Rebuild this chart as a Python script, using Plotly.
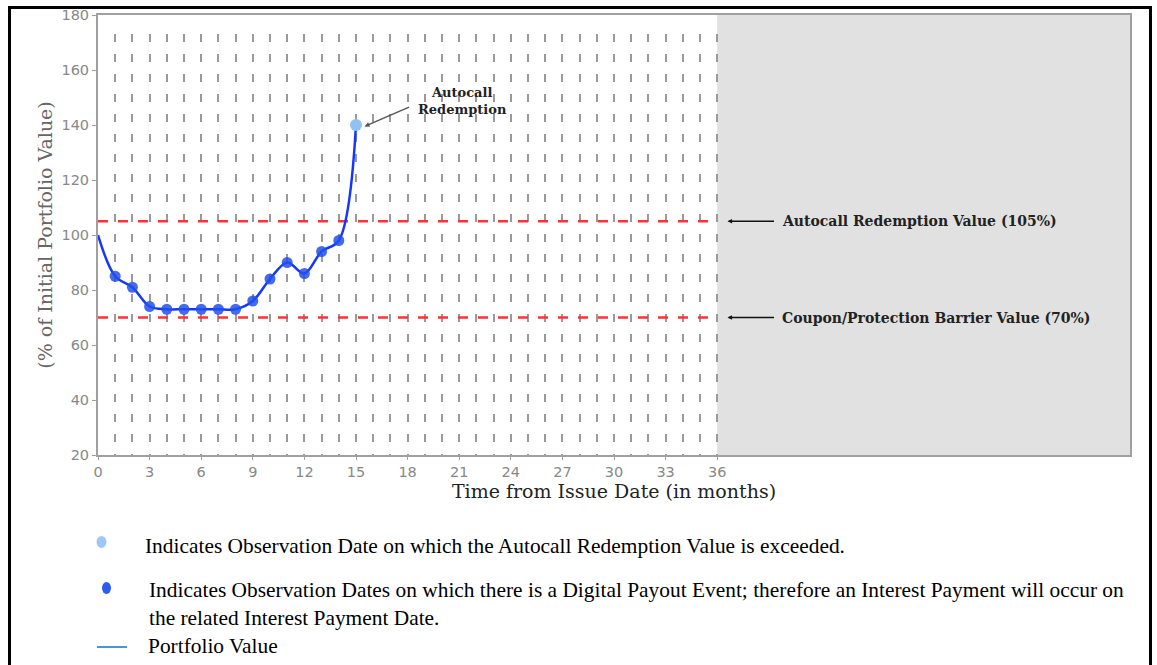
import plotly.graph_objects as go

# ---------------- data ----------------
months = [0, 1, 2, 3, 4, 5, 6, 7, 8, 9, 10, 11, 12, 13, 14, 15]
portfolio = [100, 85, 81, 74, 73, 73, 73, 73, 73, 76, 84, 90, 86, 94, 98, 140]
digital_months = [1, 2, 3, 4, 5, 6, 7, 8, 9, 10, 11, 12, 13, 14]
digital_values = [85, 81, 74, 73, 73, 73, 73, 73, 76, 84, 90, 86, 94, 98]
autocall_month = [15]
autocall_value = [140]
barrier_names = ["Autocall Redemption Value (105%)", "Coupon/Protection Barrier Value (70%)"]
barrier_levels = [105, 70]
term_months = 36
axis_end = 60
xtick_vals = list(range(0, 37, 3))
minor_vals = [m for m in range(1, 37) if m % 3 != 0]
ytick_vals = list(range(20, 181, 20))

legend_texts = [
    "Indicates Observation Date on which the Autocall Redemption Value is exceeded.",
    "Indicates Observation Dates on which there is a Digital Payout Event; therefore an Interest Payment will occur on<br>the related Interest Payment Date.",
    "Portfolio Value",
]

# ---------------- geometry helpers ----------------
W, H = 1157, 665
L, T = 98, 15
PW, PH = 1032, 440
R = W - L - PW
B = H - T - PH


def px(xp):
    """page pixel x -> paper coordinate"""
    return (xp - L) / PW


def py(yp):
    """page pixel y -> paper coordinate"""
    return (T + PH - yp) / PH


SERIF = "Liberation Serif"
WSERIF = "DejaVu Serif"
SANS = "DejaVu Sans"

grid_dash = "0px,19px," + ",".join(["8px,12px"] * 23)

fig = go.Figure()

# barrier lines
for lvl in barrier_levels:
    fig.add_trace(go.Scatter(
        x=[0, term_months], y=[lvl, lvl], mode="lines",
        line=dict(color="#ff3333", width=2.5, dash="10px,10px"),
        hoverinfo="skip", showlegend=False))

# portfolio path
fig.add_trace(go.Scatter(
    x=months, y=portfolio, mode="lines",
    line=dict(color="#1436ff", width=2.5, shape="spline", smoothing=1.0),
    showlegend=False))

# digital payout markers
fig.add_trace(go.Scatter(
    x=digital_months, y=digital_values, mode="markers",
    marker=dict(color="rgba(35,80,235,0.85)", size=11, line=dict(width=0)),
    showlegend=False))

# autocall marker
fig.add_trace(go.Scatter(
    x=autocall_month, y=autocall_value, mode="markers",
    marker=dict(color="#8ec2f2", size=12, line=dict(width=0)),
    showlegend=False))

shapes = []
# grey region after term
shapes.append(dict(type="rect", xref="x", yref="y", x0=term_months, x1=axis_end,
                   y0=20, y1=180, fillcolor="#e1e1e1", line=dict(width=0), layer="below"))
# outer black frame (left, top, right)
frame = dict(color="black", width=3)
shapes.append(dict(type="line", xref="paper", yref="paper",
                   x0=px(9.5), x1=px(9.5), y0=py(6), y1=py(670), line=frame))
shapes.append(dict(type="line", xref="paper", yref="paper",
                   x0=px(8), x1=px(1152), y0=py(7.5), y1=py(7.5), line=frame))
shapes.append(dict(type="line", xref="paper", yref="paper",
                   x0=px(1150.5), x1=px(1150.5), y0=py(6), y1=py(670), line=frame))
# legend glyphs
shapes.append(dict(type="circle", xref="paper", yref="paper", xsizemode="pixel", ysizemode="pixel",
                   xanchor=px(101.5), yanchor=py(542), x0=-5, x1=5, y0=-6, y1=6,
                   fillcolor="#9cc8f5", line=dict(width=0)))
shapes.append(dict(type="circle", xref="paper", yref="paper", xsizemode="pixel", ysizemode="pixel",
                   xanchor=px(106.5), yanchor=py(588), x0=-4.5, x1=4.5, y0=-6, y1=6,
                   fillcolor="#2a5cf0", line=dict(width=0)))
shapes.append(dict(type="line", xref="paper", yref="paper",
                   x0=px(97), x1=px(127), y0=py(647), y1=py(647),
                   line=dict(color="#0a6fd0", width=1.5)))

annotations = []
# Autocall redemption callout
annotations.append(dict(
    x=15.5, y=139.5, xref="x", yref="y", ax=46, ay=-20, axref="pixel", ayref="pixel",
    text="", showarrow=True, arrowhead=2, arrowsize=0.7, arrowwidth=1.4, arrowcolor="#555"))
annotations.append(dict(
    x=px(462), y=py(101), xref="paper", yref="paper", showarrow=False,
    text="<b>Autocall<br>Redemption</b>", align="center",
    font=dict(family=WSERIF, size=13, color="#222"), xanchor="center", yanchor="middle"))

# barrier labels with arrows
for name, lvl in zip(barrier_names, barrier_levels):
    annotations.append(dict(
        x=36.6, y=lvl, xref="x", yref="y", ax=48, ay=0, text="", showarrow=True,
        arrowhead=2, arrowsize=0.7, arrowwidth=1.3, arrowcolor="#111"))
    annotations.append(dict(
        x=px(780), y=lvl, xref="paper", yref="y", showarrow=False, text="<b>" + name + "</b>",
        xanchor="left", yanchor="middle", font=dict(family=WSERIF, size=14, color="#222")))

# legend texts
LEG = 21.4
annotations.append(dict(x=px(143), y=py(546), xref="paper", yref="paper", showarrow=False,
                        text=legend_texts[0], xanchor="left", yanchor="middle", align="left",
                        font=dict(family=SERIF, size=LEG, color="black")))
annotations.append(dict(x=px(147), y=py(576), xref="paper", yref="paper", showarrow=False,
                        text=legend_texts[1], xanchor="left", yanchor="top", align="left",
                        font=dict(family=SERIF, size=LEG, color="black")))
annotations.append(dict(x=px(146), y=py(646), xref="paper", yref="paper", showarrow=False,
                        text=legend_texts[2], xanchor="left", yanchor="middle", align="left",
                        font=dict(family=SERIF, size=LEG, color="black")))

fig.update_layout(
    width=W, height=H,
    margin=dict(l=L, r=R, t=T, b=B, autoexpand=False),
    paper_bgcolor="white", plot_bgcolor="white",
    shapes=shapes, annotations=annotations, showlegend=False,
    xaxis=dict(
        range=[0, axis_end], tickmode="array", tickvals=xtick_vals,
        ticktext=[str(v) for v in xtick_vals],
        showgrid=True, gridcolor="#9a9a9a", gridwidth=2, griddash=grid_dash,
        minor=dict(tickmode="array", tickvals=minor_vals, showgrid=True,
                   gridcolor="#9a9a9a", gridwidth=2, griddash=grid_dash, ticks=""),
        showline=True, linecolor="#a0a0a0", linewidth=2, mirror=True,
        ticks="outside", ticklen=3, tickcolor="#a0a0a0",
        tickfont=dict(family=SANS, size=14.5, color="#888"),
        zeroline=False,
        title=dict(text="Time from Issue Date (in months)", standoff=4,
                   font=dict(family=WSERIF, size=19, color="#222")),
    ),
    yaxis=dict(
        range=[20, 180], tickmode="array", tickvals=ytick_vals,
        showgrid=False, zeroline=False,
        showline=True, linecolor="#a0a0a0", linewidth=2, mirror=True,
        ticks="outside", ticklen=4, tickcolor="#a0a0a0",
        tickfont=dict(family=SANS, size=14.5, color="#888"),
        title=dict(text="(% of Initial Portfolio Value)", standoff=4,
                   font=dict(family=WSERIF, size=19, color="#666")),
    ),
)

fig.write_html(
    "out.html",
    config={"displayModeBar": False},
    post_script="document.body.style.margin='0';document.body.style.overflow='hidden';",
)
